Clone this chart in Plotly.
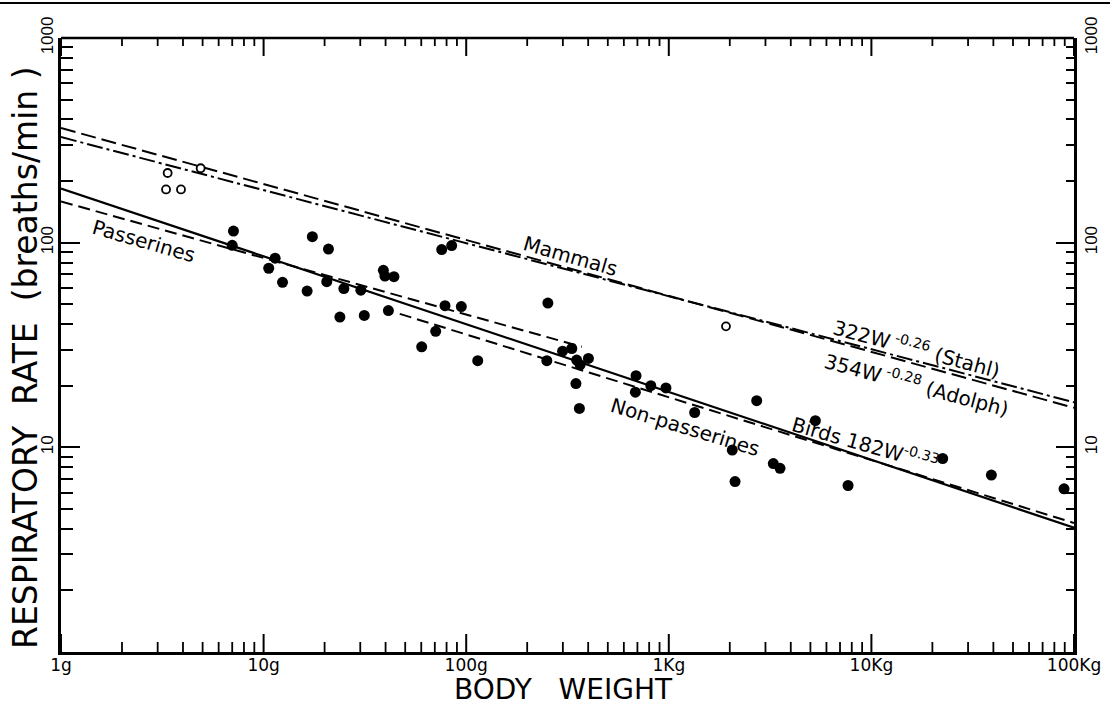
import math
import plotly.graph_objects as go

# ---------------- data ----------------
# filled circles: body weight (g), respiratory rate (breaths/min)
filled_w = [7.1, 7.0, 17.4, 20.9, 11.4, 10.6, 12.4, 16.4, 20.5, 23.8,
            75.7, 84.8, 39.0, 39.7, 44.0, 24.9, 30.2, 31.4, 41.3, 70.7,
            60.3, 78.6, 94.6, 114, 253, 250, 299, 332, 351, 365,
            401, 348, 362, 689, 684, 815, 968, 1342, 2716, 5290,
            2057, 2123, 3280, 3540, 22480, 39100, 7670, 89300, 102000]
filled_f = [114, 97, 107, 93, 84, 75, 64, 58, 64.5, 43.3,
            92.5, 96.8, 73.3, 68.7, 68.2, 59.7, 58.6, 44.1, 46.6, 36.9,
            31.0, 49.2, 48.7, 26.5, 50.7, 26.5, 29.5, 30.4, 26.7, 25.3,
            27.2, 20.5, 15.5, 22.4, 18.6, 20.0, 19.5, 14.8, 16.9, 13.5,
            9.7, 6.8, 8.33, 7.9, 8.82, 7.32, 6.51, 6.27, 5.3]

# open circles
open_w = [3.36, 3.30, 3.91, 4.89, 1915]
open_f = [219, 182, 182, 231, 39.0]

# regression lines (end points)
birds_w = [1, 100000]
birds_f = [184, 4.05]
pass_w = [1, 372]
pass_f = [159, 31.0]
nonpass_w = [47, 100000]
nonpass_f = [44.9, 4.27]
adolph_w = [1, 100000]
adolph_f = [363, 15.6]
stahl_w = [1, 100000]
stahl_f = [328, 16.6]

# axis ticks
x_tickvals = [1, 10, 100, 1000, 10000, 100000]
x_ticktext = ["1g", "10g", "100g", "1Kg", "10Kg", "100Kg"]
y_tickvals = [10, 100, 1000]
y_ticktext = ["10", "100", "1000"]
x_minor = [k * 10 ** d for d in range(5) for k in range(2, 10)]
y_minor = [k * 10 ** d for d in range(3) for k in range(2, 10)]

# ---------------- figure ----------------
W, H = 1114, 706
L, R, T, B = 61, 40, 38, 54
pw, ph = W - L - R, H - T - B
XDEC = 5.0  # decades on x axis


def px(xp):
    return (xp - L) / pw


def py(yp):
    return (H - B - yp) / ph


fig = go.Figure()

line_black = "black"
fig.add_trace(go.Scatter(x=stahl_w, y=stahl_f, mode="lines",
                         line=dict(color=line_black, width=2, dash="16px,4px,3px,4px"),
                         showlegend=False, hoverinfo="skip"))
fig.add_trace(go.Scatter(x=adolph_w, y=adolph_f, mode="lines",
                         line=dict(color=line_black, width=2, dash="15px,6px"),
                         showlegend=False, hoverinfo="skip"))
fig.add_trace(go.Scatter(x=birds_w, y=birds_f, mode="lines",
                         line=dict(color=line_black, width=2.2),
                         showlegend=False, hoverinfo="skip"))
fig.add_trace(go.Scatter(x=pass_w, y=pass_f, mode="lines",
                         line=dict(color=line_black, width=2, dash="12px,6px"),
                         showlegend=False, hoverinfo="skip"))
fig.add_trace(go.Scatter(x=nonpass_w, y=nonpass_f, mode="lines",
                         line=dict(color=line_black, width=2, dash="12px,6px"),
                         showlegend=False, hoverinfo="skip"))
fig.add_trace(go.Scatter(x=filled_w, y=filled_f, mode="markers",
                         marker=dict(color="black", size=11, line=dict(width=0)),
                         cliponaxis=False, showlegend=False))
fig.add_trace(go.Scatter(x=open_w, y=open_f, mode="markers",
                         marker=dict(color="white", size=8, line=dict(color="black", width=1.8)),
                         cliponaxis=False, showlegend=False))
# helper trace for the right-hand axis
fig.add_trace(go.Scatter(x=[10], y=[10], xaxis="x", yaxis="y2", mode="markers",
                         marker=dict(opacity=0), showlegend=False, hoverinfo="skip"))

xtickfont = dict(family="DejaVu Sans, sans-serif", size=17, color="black")
ytickfont = dict(family="Liberation Sans, Arial, sans-serif", size=17, color="black")

common = dict(showgrid=False, zeroline=False, automargin=False,
              showline=True, linecolor="black", linewidth=2.5,
              tickwidth=2, tickcolor="black")

fig.update_layout(
    width=W, height=H,
    margin=dict(l=L, r=R, t=T, b=B, autoexpand=False),
    paper_bgcolor="white", plot_bgcolor="white",
    showlegend=False,
    xaxis=dict(common, type="log", range=[0, XDEC], anchor="y",
               ticks="", tickmode="array", ticklabelstandoff=-4,
               tickvals=x_tickvals, ticktext=x_ticktext, tickfont=xtickfont),
    yaxis=dict(common, type="log", range=[0, 3], anchor="x", ticks="inside",
               ticklen=19, tickmode="array", ticklabelstandoff=-2,
               tickvals=y_tickvals, ticktext=y_ticktext, tickangle=-90,
               tickfont=ytickfont,
               minor=dict(tickmode="array", tickvals=y_minor, ticks="inside", ticklen=12,
                          tickwidth=1.8, tickcolor="black", showgrid=False)),
    yaxis2=dict(common, type="log", range=[0, 3], overlaying="y", side="right", anchor="x",
                ticks="inside", ticklen=18, tickmode="array",
                tickvals=y_tickvals, ticktext=y_ticktext, tickangle=-90,
                tickfont=ytickfont,
                minor=dict(tickmode="array", tickvals=y_minor, ticks="inside", ticklen=8,
                           tickwidth=1.8, tickcolor="black", showgrid=False)),
)

# top axis line and x-axis tick marks (bottom and top, pointing inward)
shapes = [dict(type="line", xref="paper", yref="paper", x0=0, x1=1, y0=1, y1=1,
               line=dict(color="black", width=2.5), layer="above")]
for v in x_tickvals + x_minor:
    xp = math.log10(v) / XDEC
    major = v in x_tickvals
    lb = (18 if major else 10) / ph
    lt = (18 if major else 8) / ph
    wdt = 2 if major else 1.8
    shapes.append(dict(type="line", xref="paper", yref="paper", x0=xp, x1=xp,
                       y0=0, y1=lb, line=dict(color="black", width=wdt), layer="above"))
    shapes.append(dict(type="line", xref="paper", yref="paper", x0=xp, x1=xp,
                       y0=1, y1=1 - lt, line=dict(color="black", width=wdt), layer="above"))
# top border line of the page
shapes.append(dict(type="line", xref="paper", yref="paper",
                   x0=px(0), x1=px(1110), y0=py(3), y1=py(3),
                   line=dict(color="black", width=2)))
fig.update_layout(shapes=shapes)

lab_font = dict(family="DejaVu Sans, sans-serif", size=20, color="black")
annots = [
    ("Passerines", 143.5, 241, 16),
    ("Mammals", 570, 256, 16),
    ("Non-passerines", 685, 427, 17),
    ("Birds 182W<sup>-0.33</sup>", 865, 443, 16),
    ("322W<sup> -0.26</sup> (Stahl)", 917, 348, 15),
    ("354W<sup> -0.28</sup> (Adolph)", 917, 384, 15),
]
for text, xp, yp, ang in annots:
    fig.add_annotation(text=text, x=px(xp), y=py(yp), xref="paper", yref="paper",
                       showarrow=False, textangle=ang, font=lab_font,
                       xanchor="center", yanchor="middle")

title_font = dict(family="DejaVu Sans, sans-serif", size=33, color="black")
fig.add_annotation(text="RESPIRATORY\u00a0 RATE\u00a0 (breaths/min )", x=px(25), y=py(358),
                   xref="paper", yref="paper", showarrow=False, textangle=-90,
                   font=title_font, xanchor="center", yanchor="middle")
fig.add_annotation(text="BODY\u00a0\u00a0\u00a0WEIGHT", x=px(563), y=py(689),
                   xref="paper", yref="paper", showarrow=False, borderpad=0,
                   font=dict(title_font, size=28), xanchor="center", yanchor="middle")

# remove the browser's default 8px body margin so the figure sits at (0, 0)
fig.write_html("out.html", config={"displayModeBar": False},
               post_script="document.body.style.margin='0';")
